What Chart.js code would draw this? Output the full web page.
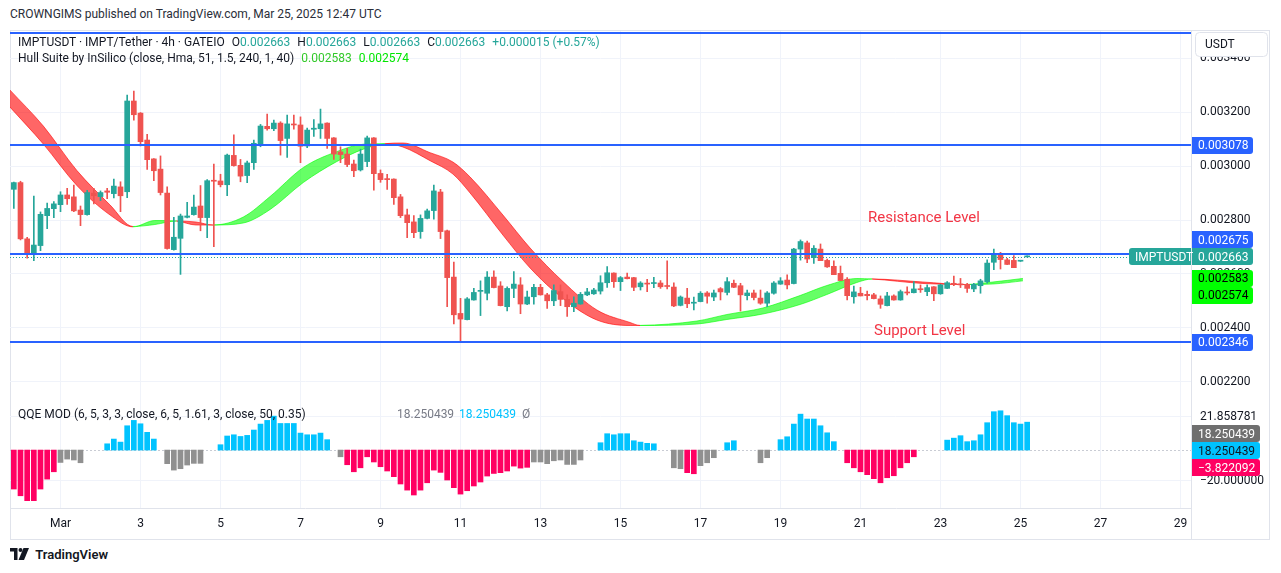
<!DOCTYPE html>
<html>
<head>
<meta charset="utf-8">
<script src="https://cdn.jsdelivr.net/npm/chart.js@4.4.1/dist/chart.umd.min.js"></script>
<style>
body{margin:0;background:#fff;width:1281px;height:573px;position:relative;overflow:hidden;font-family:Roboto,"Noto Sans",sans-serif;color:#131722}
.abs{position:absolute;white-space:nowrap;z-index:2}
#frame{position:absolute;left:10px;top:30px;width:1260px;height:510px;border:1px solid #e0e3eb;box-sizing:border-box}
canvas{position:absolute}
.lg{font-size:12px;line-height:16px}
.t{color:#26a69a}
.sp{margin-left:7px}
</style>
</head>
<body>
<div class="abs" style="left:10px;top:7px;font-size:12px;color:#2a2e39">CROWNGIMS published on TradingView.com, Mar 25, 2025 12:47 UTC</div>
<div id="frame"></div>
<canvas id="main" width="1260" height="368" style="left:10px;top:31px"></canvas>
<canvas id="qqe" width="1260" height="141" style="left:10px;top:399px"></canvas>

<div class="abs lg" style="left:18px;top:34px">IMPTUSDT · IMPT/Tether · 4h · GATEIO<span class="sp">O</span><span class="t">0.002663</span><span class="sp">H</span><span class="t">0.002663</span><span class="sp">L</span><span class="t">0.002663</span><span class="sp">C</span><span class="t">0.002663</span><span class="sp t">+0.000015 (+0.57%)</span></div>
<div class="abs lg" style="left:18px;top:50px">Hull Suite by InSilico (close, Hma, 51, 1.5, 240, 1, 40)<span class="sp" style="color:#33c92a">0.002583</span><span class="sp" style="color:#00e600">0.002574</span></div>
<div class="abs lg" style="left:18px;top:406px">QQE MOD (6, 5, 3, 3, close, 6, 5, 1.61, 3, close, 50, 0.35)</div>
<div class="abs lg" style="left:397px;top:406px;color:#787b86">18.250439</div>
<div class="abs lg" style="left:459px;top:406px;color:#00c3ff">18.250439</div>
<div class="abs lg" style="left:522px;top:406px;color:#787b86">Ø</div>
<div class="abs" style="left:868px;top:208px;font-size:15px;color:#f23645">Resistance Level</div>
<div class="abs" style="left:874px;top:321px;font-size:15px;color:#f23645">Support Level</div>
<div class="abs" style="left:10px;top:547px;font-size:13px;font-weight:600;color:#131722">
<svg width="19" height="12" viewBox="0 0 19 12" style="vertical-align:-1px"><path d="M0 0h7.5v12H4V3.4H0z" fill="#131722"/><circle cx="10.5" cy="2" r="2" fill="#131722"/><path d="M13.5 0H19l-5 12H8.5z" fill="#131722"/></svg>
<span style="margin-left:3px">TradingView</span></div>

<script>
// 4h candles, first bar opens Feb 27 20:00 UTC
const CANDLE_START = Date.UTC(2025, 1, 27, 20);
const MARCH_1 = Date.UTC(2025, 2, 1);
const BAR_HOURS = 4;

const opens = [
  0.002914,0.002939,0.002730,0.002676,0.002705,0.002816,0.002842,0.002857,0.002893,0.002886,
  0.002837,0.002820,0.002900,0.002887,0.002908,0.002898,0.002923,0.002905,0.003242,0.003197,
  0.003097,0.003027,0.002989,0.002900,0.002690,0.002732,0.002810,0.002820,0.002852,0.002809,
  0.002945,0.002945,0.002931,0.003040,0.003003,0.002965,0.003013,0.003082,0.003148,0.003139,
  0.003160,0.003103,0.003155,0.003153,0.003075,0.003137,0.003139,0.003160,0.003105,0.003053,
  0.003045,0.003008,0.002986,0.003017,0.003105,0.002973,0.002951,0.002952,0.002886,0.002819,
  0.002793,0.002757,0.002806,0.002835,0.002904,0.002760,0.002588,0.002453,0.002430,0.002503,
  0.002535,0.002528,0.002588,0.002555,0.002478,0.002546,0.002559,0.002488,0.002515,0.002550,
  0.002522,0.002500,0.002534,0.002505,0.002478,0.002488,0.002522,0.002526,0.002536,0.002567,
  0.002603,0.002571,0.002588,0.002586,0.002552,0.002565,0.002564,0.002566,0.002554,0.002551,
  0.002483,0.002510,0.002491,0.002497,0.002529,0.002514,0.002545,0.002531,0.002565,0.002556,
  0.002519,0.002529,0.002510,0.002491,0.002528,0.002562,0.002577,0.002564,0.002692,0.002715,
  0.002660,0.002692,0.002650,0.002628,0.002602,0.002580,0.002515,0.002528,0.002524,0.002522,
  0.002507,0.002482,0.002518,0.002503,0.002531,0.002530,0.002544,0.002534,0.002552,0.002526,
  0.002546,0.002565,0.002561,0.002561,0.002544,0.002556,0.002571,0.002643,0.002673,0.002652,
  0.002650,0.002647,0.002663
];
const highs = [
  0.002941,0.002944,0.002736,0.002889,0.002830,0.002863,0.002868,0.002905,0.002918,0.002930,
  0.002852,0.002910,0.002918,0.002908,0.002918,0.002952,0.002942,0.003264,0.003279,0.003199,
  0.003118,0.003028,0.003038,0.002923,0.002810,0.002822,0.002866,0.002893,0.002928,0.002950,
  0.003008,0.002970,0.003045,0.003116,0.003025,0.003019,0.003097,0.003155,0.003193,0.003171,
  0.003165,0.003190,0.003190,0.003183,0.003141,0.003173,0.003212,0.003161,0.003106,0.003072,
  0.003066,0.003023,0.003063,0.003112,0.003106,0.002986,0.002970,0.002953,0.002895,0.002841,
  0.002816,0.002819,0.002841,0.002930,0.002914,0.002763,0.002644,0.002509,0.002512,0.002546,
  0.002574,0.002608,0.002611,0.002571,0.002552,0.002608,0.002586,0.002536,0.002561,0.002561,
  0.002528,0.002559,0.002559,0.002522,0.002515,0.002531,0.002546,0.002546,0.002593,0.002627,
  0.002604,0.002590,0.002603,0.002587,0.002571,0.002580,0.002587,0.002575,0.002648,0.002567,
  0.002518,0.002546,0.002514,0.002534,0.002534,0.002540,0.002549,0.002586,0.002577,0.002565,
  0.002540,0.002540,0.002540,0.002534,0.002571,0.002586,0.002596,0.002695,0.002726,0.002722,
  0.002705,0.002711,0.002655,0.002648,0.002629,0.002586,0.002555,0.002550,0.002536,0.002528,
  0.002518,0.002531,0.002522,0.002540,0.002552,0.002571,0.002559,0.002559,0.002553,0.002561,
  0.002571,0.002592,0.002583,0.002565,0.002565,0.002580,0.002652,0.002692,0.002680,0.002658,
  0.002668,0.002650,0.002663
];
const lows = [
  0.002843,0.002726,0.002658,0.002649,0.002686,0.002768,0.002809,0.002831,0.002858,0.002831,
  0.002779,0.002818,0.002860,0.002872,0.002879,0.002882,0.002831,0.002883,0.003171,0.003075,
  0.002988,0.002946,0.002893,0.002692,0.002688,0.002598,0.002808,0.002818,0.002760,0.002734,
  0.002701,0.002923,0.002890,0.003000,0.002942,0.002939,0.002988,0.003072,0.003134,0.003132,
  0.003041,0.003032,0.003137,0.003013,0.003069,0.003110,0.003103,0.003066,0.003025,0.003013,
  0.002998,0.002961,0.002982,0.002998,0.002911,0.002940,0.002914,0.002858,0.002809,0.002734,
  0.002734,0.002732,0.002804,0.002803,0.002731,0.002478,0.002414,0.002348,0.002429,0.002502,
  0.002445,0.002503,0.002548,0.002481,0.002462,0.002512,0.002452,0.002486,0.002487,0.002521,
  0.002472,0.002482,0.002482,0.002442,0.002460,0.002487,0.002519,0.002524,0.002525,0.002550,
  0.002550,0.002538,0.002581,0.002538,0.002540,0.002534,0.002549,0.002546,0.002544,0.002478,
  0.002481,0.002474,0.002466,0.002496,0.002491,0.002500,0.002503,0.002522,0.002549,0.002462,
  0.002503,0.002503,0.002487,0.002478,0.002525,0.002561,0.002544,0.002563,0.002651,0.002642,
  0.002639,0.002649,0.002624,0.002597,0.002575,0.002503,0.002491,0.002518,0.002503,0.002507,
  0.002472,0.002481,0.002502,0.002502,0.002522,0.002529,0.002531,0.002519,0.002500,0.002524,
  0.002545,0.002556,0.002549,0.002531,0.002534,0.002528,0.002565,0.002616,0.002618,0.002634,
  0.002623,0.002646,0.002663
];
const closes = [
  0.002939,0.002730,0.002676,0.002707,0.002821,0.002843,0.002860,0.002893,0.002879,0.002834,
  0.002820,0.002902,0.002890,0.002902,0.002903,0.002926,0.002890,0.003242,0.003191,0.003091,
  0.003024,0.002983,0.002902,0.002694,0.002736,0.002815,0.002815,0.002848,0.002809,0.002946,
  0.002944,0.002931,0.003041,0.003002,0.002963,0.003012,0.003085,0.003149,0.003139,0.003160,
  0.003095,0.003157,0.003153,0.003074,0.003134,0.003141,0.003157,0.003103,0.003045,0.003043,
  0.003006,0.002983,0.003045,0.003105,0.002972,0.002950,0.002950,0.002883,0.002816,0.002790,
  0.002753,0.002806,0.002834,0.002908,0.002757,0.002586,0.002448,0.002432,0.002507,0.002531,
  0.002536,0.002588,0.002549,0.002482,0.002546,0.002562,0.002488,0.002514,0.002550,0.002522,
  0.002500,0.002538,0.002505,0.002478,0.002491,0.002524,0.002533,0.002540,0.002567,0.002604,
  0.002571,0.002586,0.002582,0.002550,0.002566,0.002562,0.002566,0.002552,0.002553,0.002481,
  0.002514,0.002489,0.002494,0.002528,0.002517,0.002529,0.002533,0.002571,0.002550,0.002522,
  0.002529,0.002512,0.002491,0.002529,0.002566,0.002574,0.002559,0.002692,0.002720,0.002655,
  0.002695,0.002649,0.002626,0.002597,0.002575,0.002519,0.002533,0.002518,0.002519,0.002508,
  0.002487,0.002518,0.002503,0.002534,0.002529,0.002544,0.002541,0.002549,0.002526,0.002559,
  0.002567,0.002561,0.002559,0.002546,0.002561,0.002574,0.002640,0.002670,0.002653,0.002635,
  0.002623,0.002648,0.002663
];
const lastPrice = 0.002663;
const symbol = 'IMPTUSDT';

// horizontal levels drawn on the chart
const levelPrices = [0.003493, 0.003078, 0.002675, 0.002346];

// Hull Suite band, sampled along the time axis (days from Mar 1)
const hullDays = [-1.27,-0.43,0.41,1.24,1.81,2.36,2.9,3.39,3.81,4.57,5.24,6.07,6.9,7.57,8.11,8.56,9.24,9.81,
  10.24,11.06,11.74,12.56,13.41,14.24,14.49,15.91,16.66,17.56,18.49,19.16,19.91,20.29,21.56,22.61,23.31,24.06];
const hullMain = [0.0032204,0.0030823,0.0029281,0.0028186,0.0027745,0.0027981,0.0027963,0.0027814,0.0027814,
  0.0028111,0.0028873,0.0029950,0.0030537,0.0030815,0.0030834,0.0030711,0.0030202,0.0029708,0.0029003,
  0.0027443,0.0026217,0.0025085,0.0024286,0.0024082,0.0024085,0.0024249,0.0024490,0.0024732,0.0025196,
  0.0025567,0.0025827,0.0025809,0.0025642,0.0025605,0.0025697,0.002583];
const hullSignal = [0.0032836,0.0031491,0.0029838,0.0028557,0.0027759,0.0027833,0.0027963,0.0027926,0.0027814,
  0.0027889,0.0028390,0.0029393,0.0030165,0.0030630,0.0030834,0.0030860,0.0030500,0.0030154,0.0029597,
  0.0028186,0.0026960,0.0025716,0.0024657,0.0024193,0.0024082,0.0024137,0.0024305,0.0024509,0.0024862,
  0.0025233,0.0025679,0.0025809,0.0025697,0.0025605,0.0025623,0.002574];

// QQE MOD histogram, one value per candle (null = no bar)
const qqeHist = [
  -25.5,-29.9,-33.1,-33.1,-25.5,-19.0,-14.2,-8.1,-5.9,-6.5,
  -8.3,null,null,null,4.1,7.2,5.2,15.9,19.4,17.2,
  11.6,7.2,null,-8.9,-13.1,-12.2,-9.8,-8.7,-8.7,null,
  null,3.5,9.2,10.0,8.9,9.6,13.1,17.0,19.4,22.2,
  17.4,17.4,17.4,11.1,10.0,10.0,11.1,6.8,null,-4.4,
  -9.6,-14.2,-11.6,-4.4,-7.8,-10.9,-13.7,-17.4,-22.2,-26.2,
  -29.4,-26.2,-21.4,-13.1,-14.6,-19.6,-24.6,-28.8,-26.6,-23.5,
  -20.9,-17.0,-15.3,-14.8,-13.7,-10.5,-11.8,-11.3,-7.8,-7.8,
  -8.9,-7.0,-6.5,-9.4,-9.4,-6.5,null,null,4.8,10.7,
  10.0,10.7,10.7,6.1,5.2,4.4,4.1,null,null,-11.6,
  -12.2,-14.8,-15.5,-10.2,-8.3,-5.0,null,4.8,6.1,null,
  null,null,-8.3,-5.0,null,6.8,8.7,17.0,23.5,20.3,
  20.3,15.9,11.3,5.5,null,-8.3,-11.6,-14.2,-16.1,-18.7,
  -21.4,-18.1,-16.8,-11.6,-8.3,-4.4,null,null,null,null,
  6.5,7.8,9.4,5.5,6.1,10.0,17.9,25.1,25.7,22.5,
  17.9,17.0,18.250439
];
// B = rising (blue), P = falling (pink), G = neutral (grey), _ = none
const qqeState = ('PPPPPPPGGGG___BBBBBBBB_GGGGGG__BBBBBBBBBBBBBBBBB_G' +
  'PPPPPPPPPPPPPPPPPPPPPPPPPPPPGGGGGGGG__BBBBBBBBB__GGPPGGG_BB___GG_BBBBBBBBB_PPPPPPPPPPP____BBBBBBBBBBBBB').split('');
const qqeLabels = [18.250439, 18.250439, -3.822092];

const priceTicks = [0.0022, 0.0024, 0.0026, 0.0028, 0.0030, 0.0032, 0.0034];
const qqeTicks = [-20, 21.858781];
const dayTicks = [0, 2, 4, 6, 8, 10, 12, 14, 16, 18, 20, 22, 24, 26, 28];
const dayTickLabels = ['Mar', '3', '5', '7', '9', '11', '13', '15', '17', '19', '21', '23', '25', '27', '29'];

const FONT = 'Roboto';
const UP = '#26a69a', DOWN = '#ef5350';
const HULL_UP = 'rgba(0,255,0,0.6)', HULL_DOWN = 'rgba(255,0,0,0.6)';
const GRID = '#f0f3fa', SEP = '#e0e3eb';
const AXIS_W = 79;
const X_MIN = -1.2625, X_MAX = 28.2625;

const barDay = i => (CANDLE_START + i * BAR_HOURS * 3600e3 - MARCH_1) / 864e5;

// no extra room around the plot: panes sit edge to edge like on TradingView
function noPad(s) {
  s.paddingTop = 0; s.paddingBottom = 0; s.paddingLeft = 0; s.paddingRight = 0;
}

function xAxis(withLabels) {
  return {
    type: 'linear', min: X_MIN, max: X_MAX, offset: false,
    afterBuildTicks: s => { s.ticks = dayTicks.map(v => ({ value: v })); },
    afterFit: s => { s.height = withLabels ? 32 : 0; noPad(s); },
    grid: { color: GRID, drawTicks: false, offset: false },
    border: { color: SEP },
    ticks: {
      display: withLabels, autoSkip: false, maxRotation: 0, padding: 9,
      color: '#131722', font: { family: FONT, size: 12 },
      callback: (v, i) => dayTickLabels[i]
    }
  };
}

function badge(ctx, x, y, w, text, bg, fg, roundLeft) {
  const h = 17;
  ctx.fillStyle = bg;
  ctx.beginPath();
  ctx.roundRect(x, Math.round(y - h / 2), w, h, roundLeft ? [3, 0, 0, 3] : [0, 3, 3, 0]);
  ctx.fill();
  ctx.fillStyle = fg;
  ctx.font = '12px ' + FONT;
  ctx.textAlign = 'left';
  ctx.textBaseline = 'middle';
  ctx.fillText(text, x + 6, Math.round(y) + 0.5);
}

// keep axis labels from overlapping: move in `dir` past already placed ones
function placeLabels(list, h) {
  const placed = [];
  list.forEach(b => {
    let y = b.y, moved = true;
    while (b.dir && moved) {
      moved = false;
      for (const p of placed) {
        if (Math.abs(p - y) < h - 0.01) { y = b.dir < 0 ? p - h : p + h; moved = true; }
      }
    }
    b.py = y;
    placed.push(y);
  });
  return list;
}

const candleColors = opens.map((o, i) => closes[i] >= o ? UP : DOWN);
const wickData = opens.map((o, i) => ({ x: barDay(i), y: [lows[i], highs[i]] }));
const bodyData = opens.map((o, i) => ({ x: barDay(i), y: [o, closes[i]] }));
const hullColor = c => {
  const a = c.p0DataIndex, b = c.p1DataIndex;
  return (hullMain[a] - hullSignal[a]) + (hullMain[b] - hullSignal[b]) >= 0 ? HULL_UP : HULL_DOWN;
};

const mainOverlay = {
  id: 'mainOverlay',
  afterDatasetsDraw(chart) {
    const { ctx, chartArea: a, scales: { y } } = chart;
    ctx.save();
    ctx.strokeStyle = '#2962ff';
    ctx.lineWidth = 2;
    levelPrices.forEach(p => {
      const py = Math.round(y.getPixelForValue(p));
      ctx.beginPath(); ctx.moveTo(a.left, py); ctx.lineTo(a.right, py); ctx.stroke();
    });
    const lp = Math.round(y.getPixelForValue(lastPrice)) + 0.5;
    ctx.strokeStyle = UP;
    ctx.lineWidth = 1;
    ctx.setLineDash([1, 2]);
    ctx.beginPath(); ctx.moveTo(a.left, lp); ctx.lineTo(a.right, lp); ctx.stroke();
    ctx.restore();
  },
  afterDraw(chart) {
    const { ctx, chartArea: a, scales: { y } } = chart;
    const bx = a.right + 1, boxBottom = 25;
    const labels = placeLabels([
      { v: lastPrice, bg: UP, fg: '#fff' },
      { v: hullMain[hullMain.length - 1], bg: '#00ff00', fg: '#000' },
      { v: levelPrices[2], bg: '#2962ff', fg: '#fff', dir: -1 },
      { v: hullSignal[hullSignal.length - 1], bg: '#00ff00', fg: '#000', dir: 1 },
      ...levelPrices.filter((p, i) => i !== 2).map(p => ({ v: p, bg: '#2962ff', fg: '#fff' }))
    ].map(b => Object.assign(b, { y: y.getPixelForValue(b.v) })), 17);
    ctx.save();
    labels.forEach(b => {
      if (b.py - 8 < boxBottom) return;
      badge(ctx, bx, b.py, 61, b.v.toFixed(6), b.bg, b.fg, false);
    });
    badge(ctx, a.right - 62, labels[0].py, 62, symbol, UP, '#fff', true);
    // currency box
    ctx.fillStyle = '#fff';
    ctx.strokeStyle = SEP;
    ctx.lineWidth = 1;
    ctx.beginPath();
    ctx.roundRect(a.right + 4.5, 1.5, 72, 24, 4);
    ctx.fill(); ctx.stroke();
    ctx.fillStyle = '#131722';
    ctx.font = '12px ' + FONT;
    ctx.textBaseline = 'middle';
    ctx.fillText('USDT', a.right + 14, 13.5);
    ctx.restore();
  }
};

new Chart(document.getElementById('main'), {
  type: 'bar',
  data: {
    datasets: [
      {
        type: 'line', data: hullDays.map((d, i) => ({ x: d, y: hullMain[i] })),
        fill: '+1', borderWidth: 1, pointRadius: 0, cubicInterpolationMode: 'monotone',
        segment: { backgroundColor: hullColor, borderColor: hullColor }, order: 5
      },
      {
        type: 'line', data: hullDays.map((d, i) => ({ x: d, y: hullSignal[i] })),
        fill: false, borderWidth: 1, pointRadius: 0, cubicInterpolationMode: 'monotone',
        segment: { borderColor: hullColor }, order: 4
      },
      { data: wickData, backgroundColor: candleColors, barThickness: 1, minBarLength: 1, grouped: false, order: 2 },
      { data: bodyData, backgroundColor: candleColors, barThickness: 5, minBarLength: 1, grouped: false, order: 1 }
    ]
  },
  options: {
    responsive: false, animation: false, events: [],
    layout: { padding: 0 },
    plugins: { legend: { display: false }, tooltip: { enabled: false } },
    scales: {
      x: xAxis(false),
      y: {
        position: 'right', min: 0.0021352, max: 0.003502,
        afterBuildTicks: s => { s.ticks = priceTicks.map(v => ({ value: v })); },
        afterFit: s => { s.width = AXIS_W; noPad(s); },
        grid: { color: GRID, drawTicks: false },
        border: { color: SEP },
        ticks: { padding: 9, color: '#131722', font: { family: FONT, size: 12 }, callback: v => v.toFixed(6) }
      }
    }
  },
  plugins: [mainOverlay]
});

const qqeColors = { B: '#00c3ff', P: '#ff0062', G: '#909090' };
const qqeData = [], qqeBg = [];
qqeHist.forEach((v, i) => {
  if (v === null) return;
  qqeData.push({ x: barDay(i), y: v });
  qqeBg.push(qqeColors[qqeState[i]]);
});

const qqeOverlay = {
  id: 'qqeOverlay',
  beforeDatasetsDraw(chart) {
    const { ctx, chartArea: a, scales: { y } } = chart;
    const zy = Math.round(y.getPixelForValue(0)) + 0.5;
    ctx.save();
    ctx.strokeStyle = '#c9ccd4';
    ctx.setLineDash([2, 2]);
    ctx.beginPath(); ctx.moveTo(a.left, zy); ctx.lineTo(a.right, zy); ctx.stroke();
    ctx.restore();
  },
  afterDraw(chart) {
    const { ctx, chartArea: a, scales: { y } } = chart;
    ctx.save();
    ctx.strokeStyle = SEP;
    ctx.beginPath(); ctx.moveTo(a.right + 0.5, a.bottom); ctx.lineTo(a.right + 0.5, chart.height); ctx.stroke();
    const styles = [['#6f6f6f', '#fff'], ['#00c3ff', '#131722'], ['#ff0062', '#fff']];
    const list = placeLabels([{ y: y.getPixelForValue(qqeTicks[1]) }].concat(
      qqeLabels.map((v, i) => ({ v, y: y.getPixelForValue(v), dir: 1, st: styles[i] }))), 17);
    list.slice(1).forEach(b => badge(ctx, a.right + 1, b.py, 68, b.v.toFixed(6).replace('-', '\u2212'), b.st[0], b.st[1], false));
    ctx.restore();
  }
};

new Chart(document.getElementById('qqe'), {
  type: 'bar',
  data: { datasets: [{ data: qqeData, backgroundColor: qqeBg, barThickness: 5, grouped: false }] },
  options: {
    responsive: false, animation: false, events: [],
    layout: { padding: 0 },
    plugins: { legend: { display: false }, tooltip: { enabled: false } },
    scales: {
      x: xAxis(true),
      y: {
        position: 'right', min: -37.9, max: 33.4,
        afterBuildTicks: s => { s.ticks = qqeTicks.map(v => ({ value: v })); },
        afterFit: s => { s.width = AXIS_W; noPad(s); },
        grid: { color: GRID, drawTicks: false },
        border: { color: SEP },
        ticks: { padding: 9, color: '#131722', font: { family: FONT, size: 12 }, callback: v => v.toFixed(6).replace('-', '\u2212') }
      }
    }
  },
  plugins: [qqeOverlay]
});
</script>
</body>
</html>
